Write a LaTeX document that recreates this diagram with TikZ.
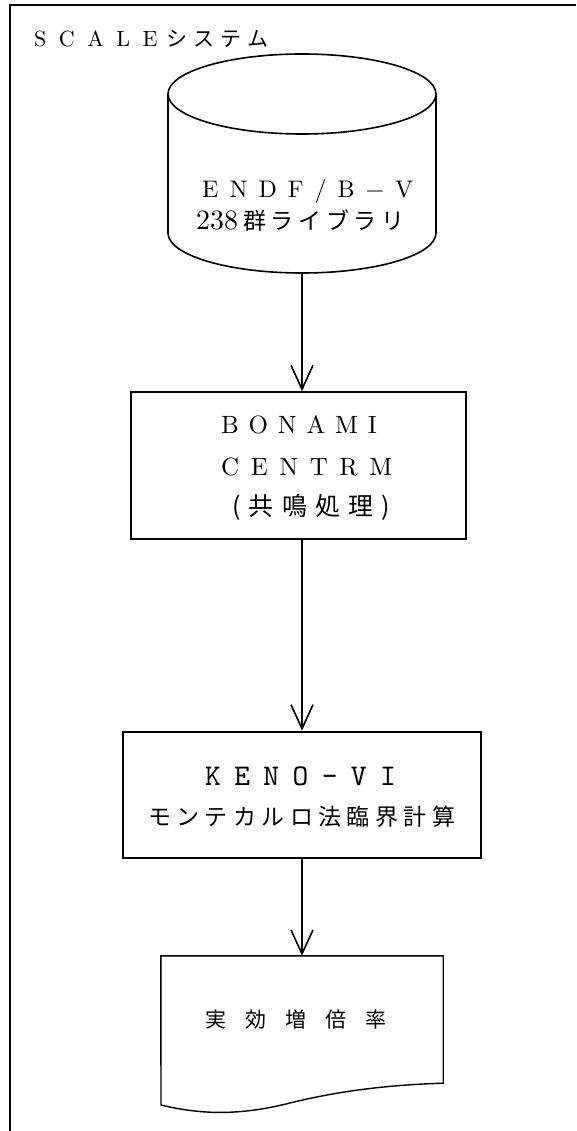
\documentclass[tikz,border=0pt]{standalone}
\usepackage{fontspec}
\newfontfamily\jp{Noto Sans CJK JP}
\newfontfamily\lm{lmroman10-regular.otf}
\newfontfamily\lmtt{lmmono10-regular.otf}
\usetikzlibrary{arrows.meta}
\makeatletter
\newcommand\spc[2]{\def\spc@g{#1}\@tfor\spc@c:=#2\do{\spc@c\hspace{\spc@g}}}
\makeatother
\tikzset{
  lbl/.style={inner sep=0pt, anchor=base west},
  box/.style={draw, line width=1.6pt, inner sep=0pt},
  thickbox/.style={draw, line width=2.8pt, inner sep=0pt},
  ghost/.style={inner sep=0pt},
  frameline/.style={line width=2.2pt},
  arr/.style={line width=1.6pt, -{Straight Barb[length=24pt,width=22pt,line width=1.6pt]}},
}
\begin{document}
\begin{tikzpicture}[x=1pt,y=-1pt]
\fill[white] (0,0) rectangle (576,1131);
\useasboundingbox (0,0) rectangle (576,1131);
% frame
\coordinate (ftl) at (10,5);
\coordinate (ftr) at (576,5);
\coordinate (fbl) at (10,1131);
\draw[frameline] (ftr) -- (ftl) -- (fbl);
\node[lbl] (title) at (34,47) {\lm\fontsize{22}{26}\selectfont\spc{12.5pt}{SCALE}\hspace{-4pt}{\jp\fontsize{21}{26}\selectfont\spc{6pt}{システム}}};
% cylinder
\node[ghost, minimum width=268pt, minimum height=219pt] (lib) at (302,163.5) {};
\draw[box] (302,94) ellipse [x radius=134pt, y radius=40pt];
\draw[box] (168,94) -- (168,233) arc[start angle=180, end angle=360, x radius=134pt, y radius=40pt] -- (436,94);
\node[lbl] (endf) at (202,198) {\lm\fontsize{24}{28}\selectfont\spc{11pt}{ENDF/B−V}};
\node[lbl] (grp) at (196,230) {\lm\fontsize{28}{30}\selectfont 238\hspace{5pt}{\jp\fontsize{23}{26}\selectfont\spc{4.6pt}{群ライブラリ}}};
% BONAMI box
\node[box, minimum width=335pt, minimum height=147pt] (bon) at (298.5,465.5) {};
\node[lbl] (bon1) at (221,433) {\lm\fontsize{25}{28}\selectfont\spc{9.8pt}{BONAMI}};
\node[lbl] (bon2) at (221,475) {\lm\fontsize{25}{28}\selectfont\spc{11.6pt}{CENTRM}};
\node[lbl] (bon3) at (232,515) {\jp\fontsize{25}{28}\selectfont\spc{8.2pt}{(共鳴処理)}};
% KENO box
\node[thickbox, minimum width=358pt, minimum height=126pt] (keno) at (302,795) {};
\node[lbl] (keno1) at (205,785) {\lmtt\fontsize{30}{32}\selectfont\spc{13.4pt}{KENO-VI}};
\node[lbl] (keno2) at (148,825) {\jp\fontsize{23}{26}\selectfont\spc{5.4pt}{モンテカルロ法臨界計算}};
% result document
\node[ghost, minimum width=282pt, minimum height=127pt] (res) at (302,1019.5) {};
\draw[line width=1.4pt] (res.north west) -- (res.north east) -- (res.south east)
  .. controls (380,1085) and (330,1093) .. (290,1103)
  .. controls (250,1113) and (210,1117) .. (161,1105) -- cycle;
\node[lbl] (res1) at (205,1027) {\jp\fontsize{21}{24}\selectfont\spc{19pt}{実効増倍率}};
% connectors
\draw[arr] (lib.south) -- (lib.south |- bon.north);
\draw[arr] (bon.south -| lib.south) -- (lib.south |- keno.north);
\draw[arr] (keno.south) -- (keno.south |- res.north);
\end{tikzpicture}
\end{document}
